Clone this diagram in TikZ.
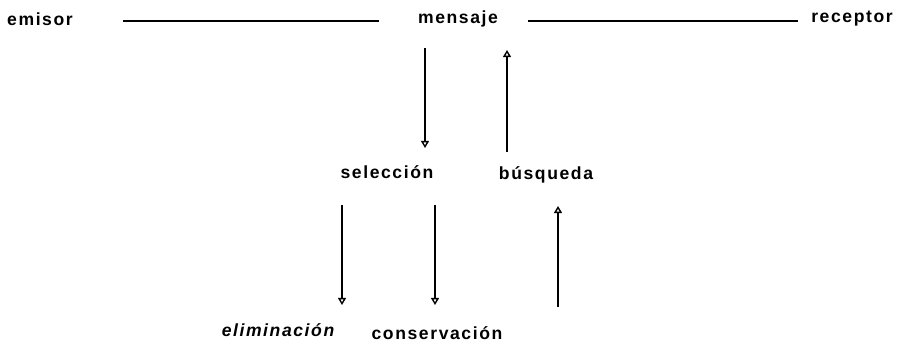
\documentclass[tikz,border=0pt]{standalone}
\usepackage{fontspec}
\setmainfont{Liberation Sans}[LetterSpace=9]
\usepackage{tikz}
\usetikzlibrary{arrows.meta}
\tikzstyle{word}=[font=\bfseries, inner sep=0pt]
\tikzstyle{link}=[draw, line width=1.3pt]
\tikzstyle{flow}=[draw, line width=1.1pt, -{Triangle[open, length=4pt, width=4.5pt, line width=0.8pt]}]

\begin{document}
\begin{tikzpicture}
 	\useasboundingbox (0.0cm,0.0cm) rectangle (18.14cm,6.98cm);
 	\node[word] (emisor) at (0.80cm,6.60cm) {emisor};
 	\node[word] (mensaje) at (9.16cm,6.60cm) {mensaje};
 	\node[word] (receptor) at (17.04cm,6.60cm) {receptor};
 	\node[word] (seleccion) at (7.74cm,3.54cm) {selección};
 	\node[word] (busqueda) at (10.92cm,3.48cm) {búsqueda};
 	\node[word, font=\bfseries\itshape] (eliminacion) at (5.56cm,0.38cm) {eliminación};
 	\node[word] (conservacion) at (8.74cm,0.32cm) {conservación};
 	% ends of the vertical arrows
 	\coordinate (msg out) at (8.50cm,6.02cm);
 	\coordinate (sel in) at (8.50cm,4.02cm);
 	\coordinate (bus out) at (10.14cm,3.94cm);
 	\coordinate (msg in) at (10.14cm,5.98cm);
 	\coordinate (sel out a) at (6.84cm,2.88cm);
 	\coordinate (eli in) at (6.84cm,0.88cm);
 	\coordinate (sel out b) at (8.70cm,2.88cm);
 	\coordinate (con in) at (8.70cm,0.88cm);
 	\coordinate (con out) at (11.16cm,0.84cm);
 	\coordinate (bus in) at (11.16cm,2.86cm);
 	\path[link, shorten <=1.0cm, shorten >=0.78cm] ([yshift=-1pt]emisor.east) -- ([yshift=-1pt]mensaje.west);
 	\path[link, shorten <=0.6cm, shorten >=0.26cm] ([yshift=-1pt]mensaje.east) -- ([yshift=-1pt]receptor.west);
 	\path[flow] (msg out) -- (sel in);
 	\path[flow] (bus out) -- (msg in);
 	\path[flow] (sel out a) -- (eli in);
 	\path[flow] (sel out b) -- (con in);
 	\path[flow] (con out) -- (bus in);
\end{tikzpicture}
\end{document}
